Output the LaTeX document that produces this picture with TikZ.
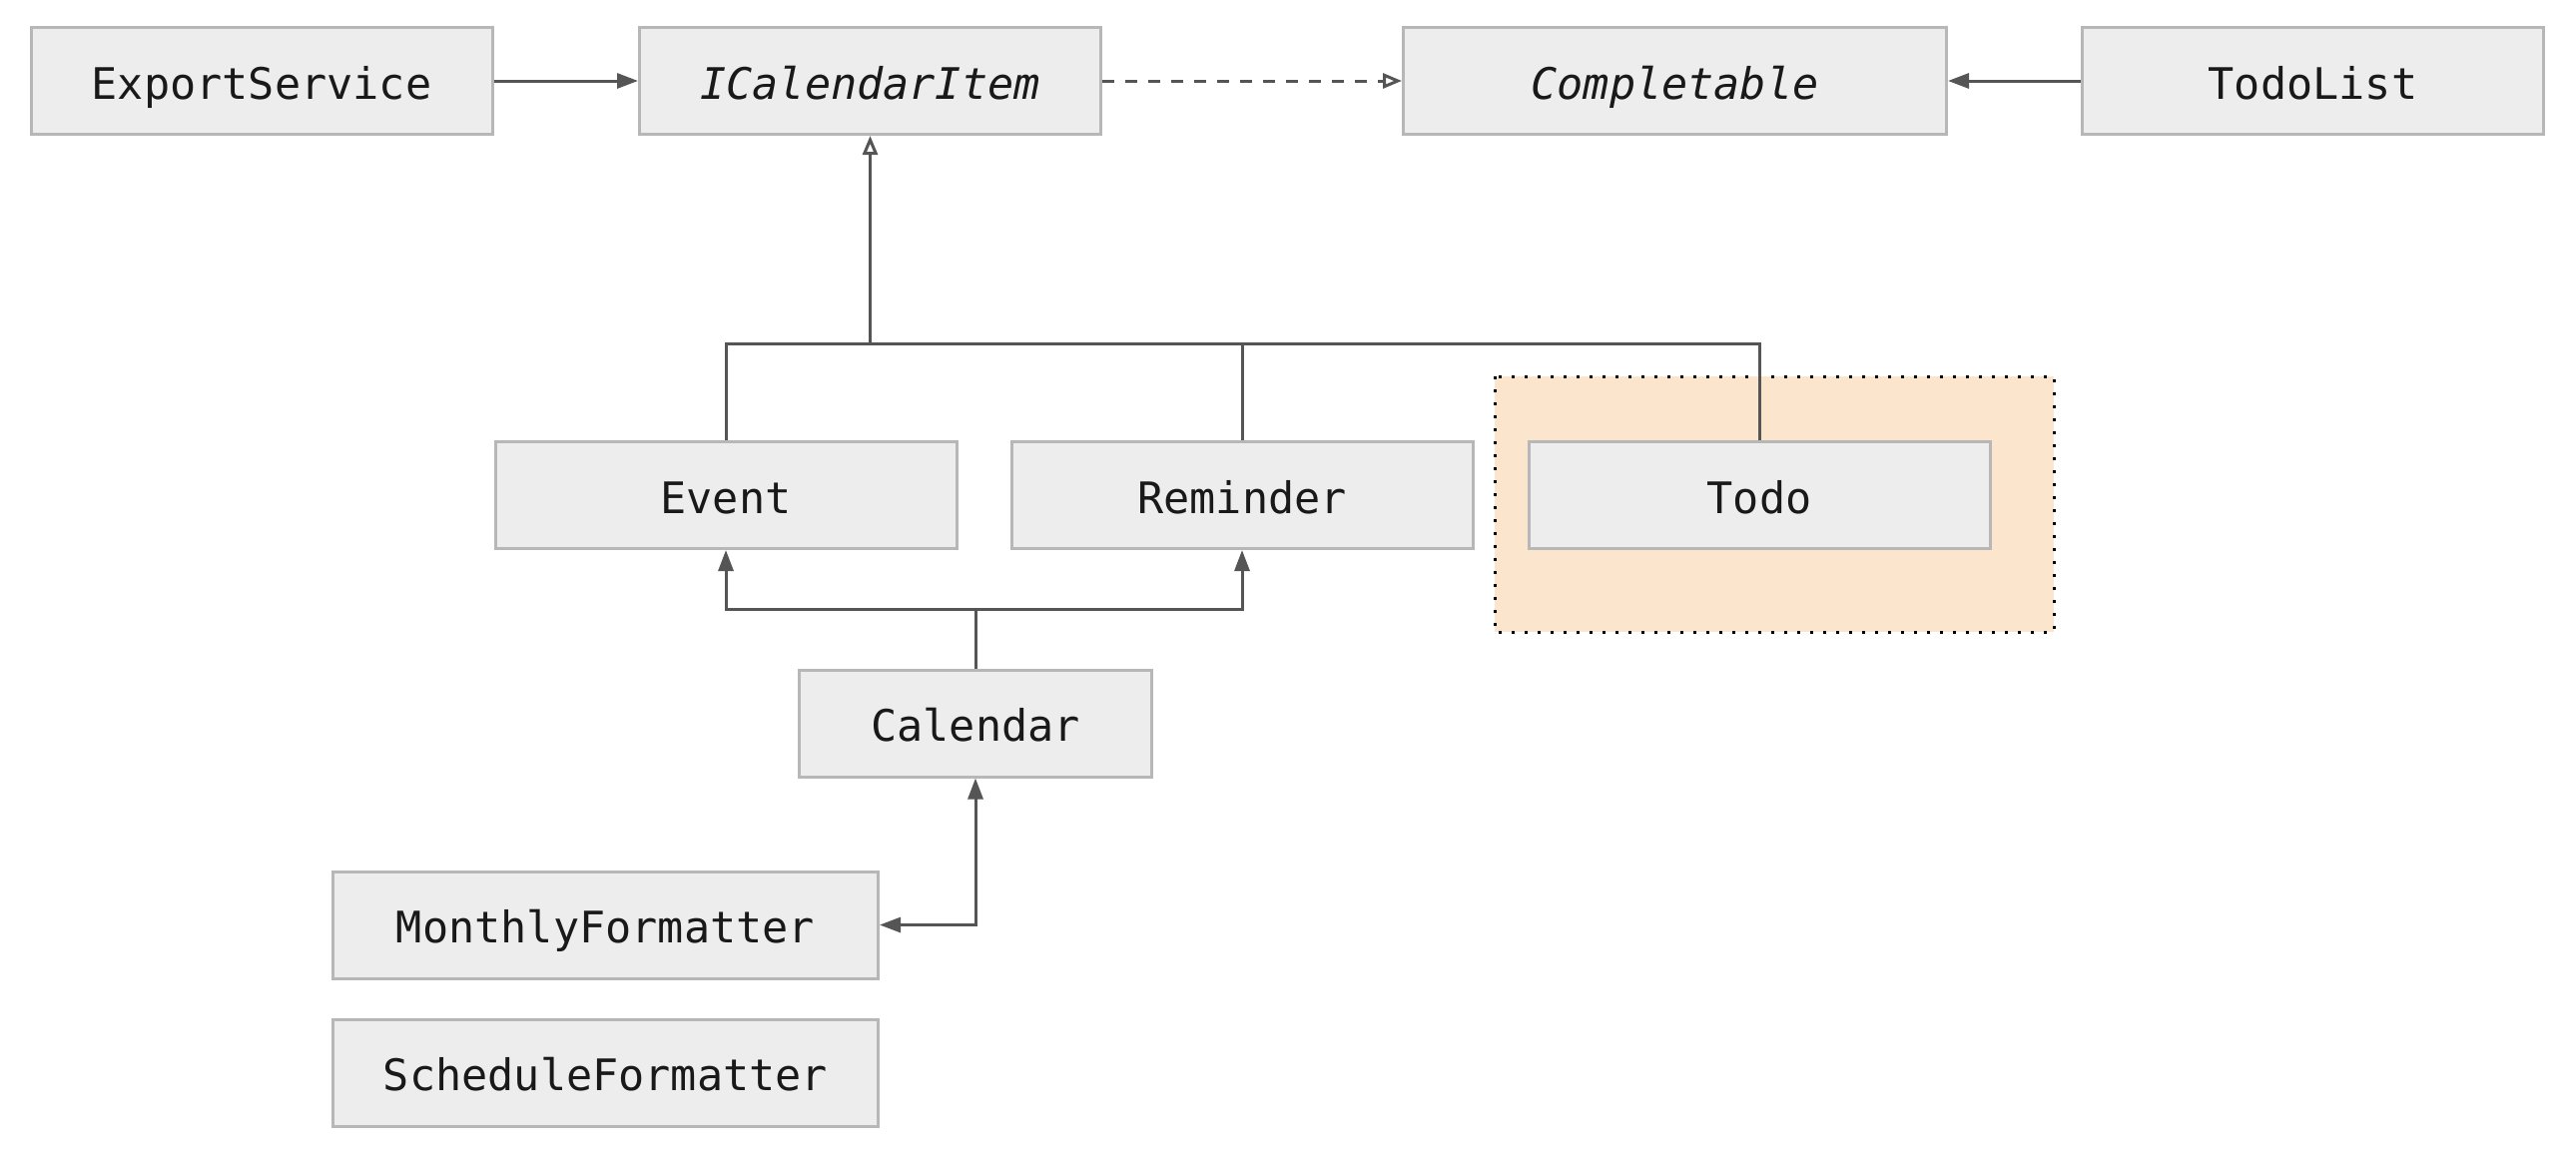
\documentclass[tikz,border=0pt]{standalone}
\usepackage{fontspec}
\setmonofont{DejaVu Sans Mono}
\usetikzlibrary{arrows.meta}
\definecolor{boxfill}{HTML}{EDEDED}
\definecolor{boxline}{HTML}{B7B7B7}
\definecolor{connline}{HTML}{555555}
\definecolor{groupfill}{HTML}{FCE5CD}
\tikzset{
  cls/.style={draw=boxline, fill=boxfill, line width=3pt, minimum width=462pt,
    minimum height=107pt, inner sep=0pt, text=black!90,
    text height=36pt, text depth=0pt,
    font=\fontsize{43.5}{50}\selectfont\ttfamily},
  iface/.style={cls, font=\fontsize{43.5}{50}\selectfont\ttfamily\itshape},
  conn/.style={draw=connline, line width=3pt},
  solidtip/.style={-{Triangle[length=21pt,width=15pt]}},
  opentip/.style={-{Triangle[open,length=19pt,width=15pt,line width=3pt]}},
  grp/.style={fill=groupfill, draw=black, line width=3pt, dash pattern=on 3pt off 10pt}
}
\begin{document}
\begin{tikzpicture}[x=1pt,y=-1pt]
\useasboundingbox (0,0) rectangle (2580,1160);
% group background
\path[grp] (1497,377) rectangle (2057,633);
% nodes
\node[cls] (export) at (262,81) {ExportService};
\node[iface] (ical) at (871.5,81) {ICalendarItem};
\node[iface, minimum width=544pt] (compl) at (1677.5,81) {Completable};
\node[cls] (todolist) at (2316.5,81) {TodoList};
\node[cls] (event) at (727,496) {Event};
\node[cls] (reminder) at (1244,496) {Reminder};
\node[cls] (todo) at (1762,496) {Todo};
\node[cls, minimum width=353pt] (calendar) at (977,724.5) {Calendar};
\node[cls, minimum width=546pt] (monthly) at (606.5,926.5) {MonthlyFormatter};
\node[cls, minimum width=546pt] (schedule) at (606.5,1074.5) {ScheduleFormatter};
% coordinates
\coordinate (busT) at (871.5,344);
\coordinate (busB) at (977,610);
% connectors
\draw[conn, solidtip] (export) -- (ical);
\draw[conn, opentip, dash pattern=on 12pt off 11pt] (ical) -- (compl);
\draw[conn, solidtip] (todolist) -- (compl);
\draw[conn] (event.north) -- (event.north |- busT) -- (todo.north |- busT) -- (todo.north);
\draw[conn] (reminder.north) -- (reminder.north |- busT);
\draw[conn, opentip] (busT) -- (ical.south);
\draw[conn] (calendar.north) -- (busB);
\draw[conn, solidtip] (busB) -| (event.south);
\draw[conn, solidtip] (busB) -| (reminder.south);
\draw[conn, {Triangle[length=21pt,width=15pt]}-{Triangle[length=21pt,width=15pt]}] (calendar.south) |- (monthly.east);
\end{tikzpicture}
\end{document}
